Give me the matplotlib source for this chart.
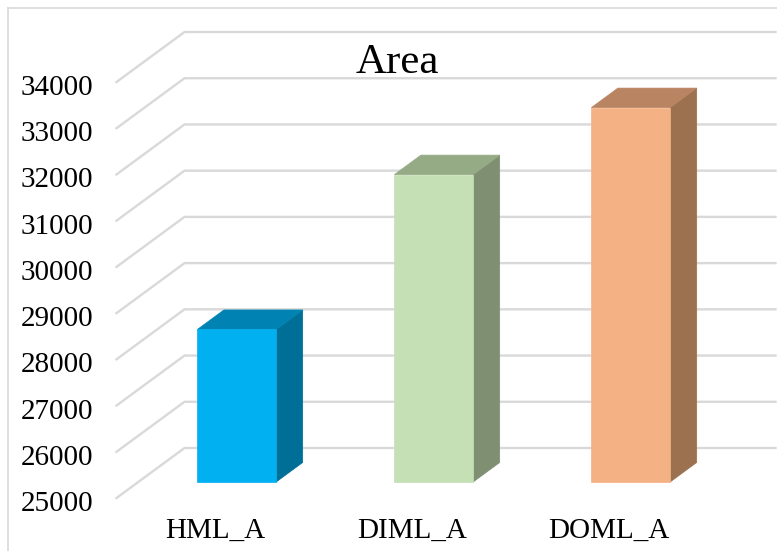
import matplotlib
matplotlib.use("Agg")
import matplotlib.pyplot as plt
import matplotlib.transforms as mtransforms
from matplotlib.patches import Polygon
from matplotlib.lines import Line2D
import numpy as np

plt.rcParams["font.family"] = ["Liberation Serif", "DejaVu Serif"]

# ---- data ----
categories = ["HML_A", "DIML_A", "DOML_A"]
values = [28300, 31650, 33100]
yticks = list(range(25000, 35000, 1000))

front_colors = ["#00b0f0", "#c5e0b4", "#f4b183"]
top_colors = ["#0083b3", "#95ab86", "#b98461"]
side_colors = ["#006f97", "#7f8f72", "#9c7150"]

GRID = "#d9d9d9"
W, H, DPI = 777, 551, 100

fig = plt.figure(figsize=(W / DPI, H / DPI), dpi=DPI)
# front plane of the floor (the "3D" box is an oblique projection on top of it)
ax = fig.add_axes([116.5 / W, (H - 498) / H, 591 / W, 416 / H])
ax.set_xlim(-0.5, len(categories) - 0.5)
ax.set_ylim(yticks[0], yticks[-1])
for s in ax.spines.values():
    s.set_visible(False)
ax.patch.set_visible(False)

# depth vector: 68 px right, 50 px up, converted to data units
p0 = ax.transData.transform((0, yticks[0]))
p1 = ax.transData.inverted().transform(p0 + np.array([68, 50]))
ddx, ddy = p1[0] - 0, p1[1] - yticks[0]


def proj(x, v, d):
    return (x + d * ddx, v + d * ddy)


x_lo, x_hi = ax.get_xlim()
base = yticks[0]

# side wall diagonals + back wall gridlines
for v in yticks:
    a = proj(x_lo, v, 0)
    b = proj(x_lo, v, 1)
    c = proj(x_hi, v, 1)
    ax.plot([a[0], b[0], c[0]], [a[1], b[1], c[1]], color=GRID, lw=1.7,
            clip_on=False, zorder=1, solid_joinstyle="miter")

# bars
f0, f1 = 0.32, 0.71
bw = 0.2
for i, val in enumerate(values):
    x0, x1 = i - bw, i + bw
    front = [proj(x0, base, f0), proj(x1, base, f0), proj(x1, val, f0), proj(x0, val, f0)]
    top = [proj(x0, val, f0), proj(x1, val, f0), proj(x1, val, f1), proj(x0, val, f1)]
    side = [proj(x1, base, f0), proj(x1, base, f1), proj(x1, val, f1), proj(x1, val, f0)]
    for pts, col in ((side, side_colors[i]), (top, top_colors[i]), (front, front_colors[i])):
        ax.add_patch(Polygon(pts, closed=True, facecolor=col, edgecolor=col, lw=0.5,
                             clip_on=False, zorder=3))

ax.set_yticks(yticks)
ax.set_yticklabels([str(v) for v in yticks], fontsize=21)
ax.set_xticks(range(len(categories)))
ax.set_xticklabels(categories, fontsize=21)
ax.tick_params(axis="y", length=0, pad=17)
ax.tick_params(axis="x", length=0, pad=14)
# value labels sit a touch below the end of their diagonal
shift = mtransforms.ScaledTranslation(0, -3 / DPI, fig.dpi_scale_trans)
for lab in ax.get_yticklabels():
    lab.set_transform(lab.get_transform() + shift)

fig.text(397 / W, 1 - 73 / H, "Area", fontsize=31, ha="center", va="baseline")

# chart border (top and left edges visible)
fig.add_artist(Line2D([8 / W, 8 / W], [0, 1 - 8 / H], color=GRID, lw=1.2))
fig.add_artist(Line2D([8 / W, 1], [1 - 8 / H, 1 - 8 / H], color=GRID, lw=1.2))

fig.savefig("out.png", dpi=DPI)
